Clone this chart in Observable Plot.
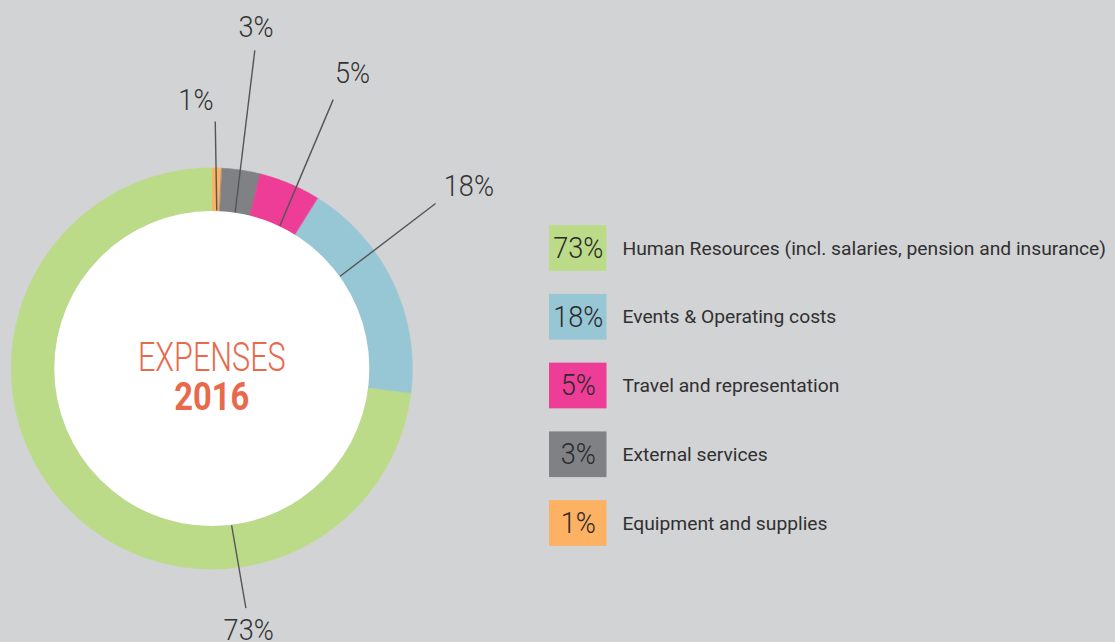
<!DOCTYPE html>
<html>
<head>
<meta charset="utf-8">
<script src="https://cdn.jsdelivr.net/npm/d3@7"></script>
<script src="https://cdn.jsdelivr.net/npm/@observablehq/plot@0.6"></script>
<style>
  html, body { margin: 0; padding: 0; background: #d2d3d5; }
  #chart { width: 1115px; height: 642px; overflow: hidden; }
</style>
</head>
<body>
<div id="chart"></div>
<script>
// ---------------- data ----------------
const categories = [
  "Human Resources (incl. salaries, pension and insurance)",
  "Events & Operating costs",
  "Travel and representation",
  "External services",
  "Equipment and supplies"
];
const shares = [73.0, 18.1, 5.0, 3.1, 0.8];           // percent of 2016 expenses
const colors = ["#bbdb88", "#97c6d5", "#ee3d96", "#808184", "#fcb163"];
const pieOrder = [4, 3, 2, 1, 0];                       // clockwise from 12 o'clock
const centerTitle = "EXPENSES";
const centerYear = "2016";

// ---------------- layout ----------------
const W = 1115, H = 642;
const CX = 211.3, CY = 368;          // donut centre in page pixels
const R_OUT = 200.5, R_IN = 157.5;
// leader lines / labels, per category index (degrees clockwise from 12 o'clock)
const leaderInAngle  = [172.8, 54.3, 25.5, 8.5, 1.8];
const leaderOutAngle = [171.9, 53.6, 24.3, 7.7, 0.8];
const leaderOutR     = [242, 278, 295, 321, 247];
const labelAngle     = [172.0, 54.7, 25.5, 7.4, -3.4];
const labelR         = [265, 315, 327, 344, 268];
// legend (page pixels)
const LEG_X0 = 549, LEG_X1 = 606.5, LEG_Y0 = 248, LEG_STEP = 68.75, LEG_H = 45.7, LEG_TX = 622;

const rad = d => d * Math.PI / 180;
const px = (r, a) => r * Math.sin(rad(a));
const py = (r, a) => r * Math.cos(rad(a));

// ring polygons
const ring = [];
let acc = 0;
for (const i of pieOrder) {
  const a0 = acc / 100 * 360, a1 = (acc + shares[i]) / 100 * 360;
  acc += shares[i];
  const n = Math.max(2, Math.ceil((a1 - a0) / 0.5));
  for (let k = 0; k <= n; k++) {
    const a = a0 + (a1 - a0) * k / n;
    ring.push({cat: categories[i], x: px(R_OUT, a), y: py(R_OUT, a)});
  }
  for (let k = n; k >= 0; k--) {
    const a = a0 + (a1 - a0) * k / n;
    ring.push({cat: categories[i], x: px(R_IN, a), y: py(R_IN, a)});
  }
}

const rows = categories.map((c, i) => ({
  cat: c,
  pct: Math.round(shares[i]) + "%",
  lx1: px(R_IN + 0.5, leaderInAngle[i]), ly1: py(R_IN + 0.5, leaderInAngle[i]),
  lx2: px(leaderOutR[i], leaderOutAngle[i]), ly2: py(leaderOutR[i], leaderOutAngle[i]),
  tx: px(labelR[i], labelAngle[i]), ty: py(labelR[i], labelAngle[i]),
  gx0: LEG_X0 - CX, gx1: LEG_X1 - CX,
  gy: CY - (LEG_Y0 + i * LEG_STEP),
  gtx: LEG_TX - CX
}));

const chart = Plot.plot({
  width: W, height: H,
  marginTop: 0, marginRight: 0, marginBottom: 0, marginLeft: 0,
  x: {domain: [-CX, W - CX], axis: null},
  y: {domain: [CY - H, CY], axis: null},
  color: {domain: categories, range: colors},
  style: {background: "#d2d3d5", overflow: "hidden"},
  marks: [
    Plot.line(ring, {x: "x", y: "y", z: "cat", fill: "cat", stroke: "cat", strokeWidth: 0.6, curve: "linear-closed"}),
    Plot.dot([0], {x: () => 0, y: () => 0, r: R_IN, fill: "white", stroke: "none"}),
    Plot.link(rows, {x1: "lx1", y1: "ly1", x2: "lx2", y2: "ly2", stroke: "#555557", strokeWidth: 1.4}),
    Plot.text(rows, {x: "tx", y: "ty", text: "pct", fill: "#333333", fontFamily: "Roboto", fontWeight: 300, fontSize: 29.5, textAnchor: "middle", lineAnchor: "middle"}),
    Plot.rect(rows, {x1: "gx0", x2: "gx1", y1: d => d.gy - LEG_H / 2, y2: d => d.gy + LEG_H / 2, fill: "cat"}),
    Plot.text(rows, {x: d => (d.gx0 + d.gx1) / 2, y: "gy", text: "pct", fill: "#2a2a2a", fontFamily: "Roboto", fontWeight: 300, fontSize: 29.5, textAnchor: "middle", lineAnchor: "middle"}),
    Plot.text(rows, {x: "gtx", y: "gy", text: "cat", fill: "#303030", fontFamily: "Roboto", fontWeight: 400, fontSize: 18.8, textAnchor: "start", lineAnchor: "middle"}),
    Plot.text([centerTitle], {x: () => 0, y: () => 11, text: d => d, fill: "#e9694b", fontFamily: "Roboto", fontWeight: 300, fontSize: 40.8, textAnchor: "middle", lineAnchor: "middle"}),
    Plot.text([centerYear], {x: () => 0, y: () => -29, text: d => d, fill: "#e9694b", fontFamily: "Roboto", fontWeight: 700, fontSize: 39.4, textAnchor: "middle", lineAnchor: "middle"})
  ]
});
document.getElementById("chart").appendChild(chart);

// adjust set widths (reference uses a condensed display face and a slightly wide text face)
const squeeze = [0.92, 0.92, 1.025, 0.75, 0.83];
d3.select(chart).selectAll('g[aria-label="text"]').each(function (_, gi) {
  const f = squeeze[gi];
  if (f === undefined || f === 1) return;
  d3.select(this).selectAll("text").each(function () {
    const L = this.getComputedTextLength();
    this.setAttribute("textLength", (L * f).toFixed(2));
    this.setAttribute("lengthAdjust", "spacingAndGlyphs");
  });
});
</script>
</body>
</html>
